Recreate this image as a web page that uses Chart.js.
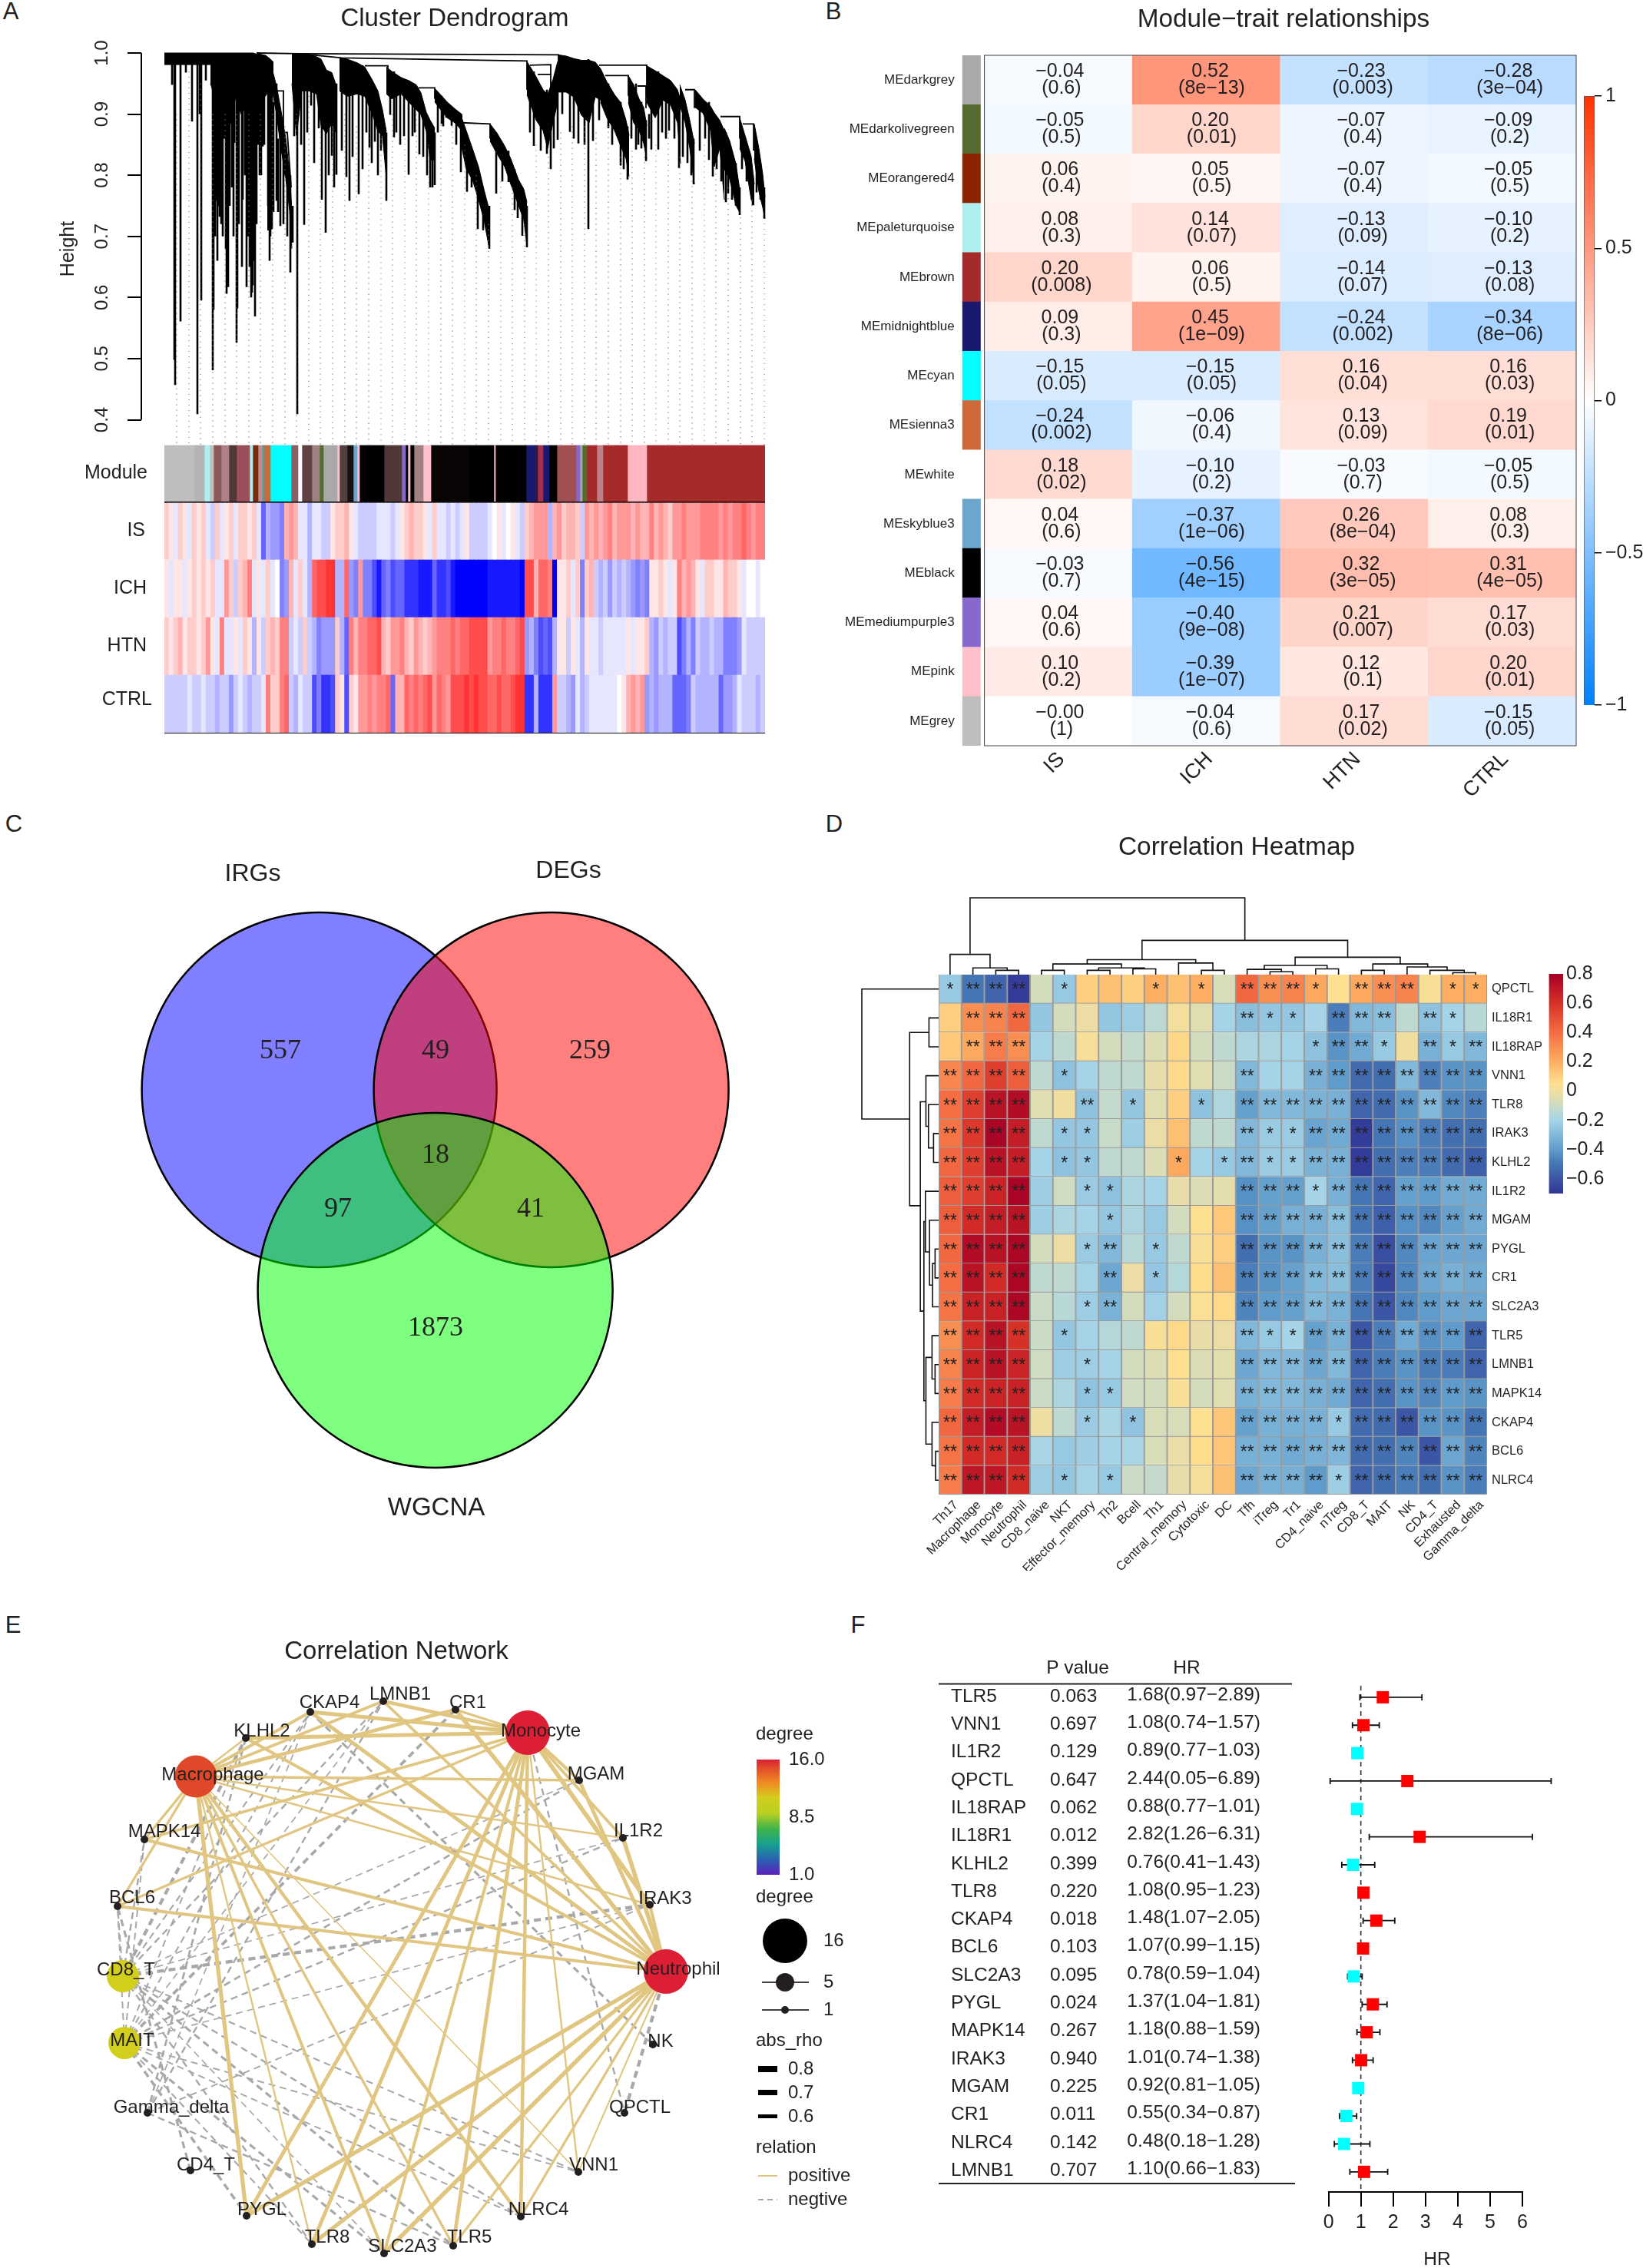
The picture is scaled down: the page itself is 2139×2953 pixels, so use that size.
<!DOCTYPE html>
<html>
<head>
<meta charset="utf-8">
<title>Figure</title>
<script src="https://cdn.jsdelivr.net/npm/chart.js@4/dist/chart.umd.min.js"></script>
<style>
body{margin:0;background:#fff;}
#page{position:relative;width:2139px;height:2953px;overflow:hidden;font-family:"Liberation Sans",Arial,sans-serif;color:#231f20;}
.tag{position:absolute;font-size:31px;line-height:31px;transform:translate(-50%,-50%);}
</style>
</head>
<body>
<div id="page">
<div class="tag" style="left:14px;top:14px">A</div>
<div class="tag" style="left:1085px;top:14px">B</div>
<div class="tag" style="left:18px;top:1072px">C</div>
<div class="tag" style="left:1086px;top:1072px">D</div>
<div class="tag" style="left:17px;top:2115px">E</div>
<div class="tag" style="left:1117px;top:2115px">F</div>
</div>
<script>
// ---------- A: dendrogram, [x along gene order, height]
var heightTicks=[0.4,0.5,0.6,0.7,0.8,0.9,1.0];
// filled curtains, each point is [x, top height, bottom height]
var dendroBands=[
[[0,1.0,.981],[116,1.0,.981],[120,.998,.985]],
[[60,.981,.95],[70,.981,.91],[85,.981,.95],[100,.981,.9],[116,.981,.93]],
[[118,.998,.946],[125,.998,.925],[132,.996,.93],[138,.99,.946],[142,.985,.955]],
[[138,.985,.955],[146,.946,.90],[151,.912,.85],[158,.86,.795],[163,.803,.742],[166,.742,.68]],
[[134,.938,.71],[140,.938,.712]],
[[166,.999,.95],[172,.999,.865],[179,.998,.938],[188,.998,.938],[198,.994,.933],[204,.99,.881],[211,.972,.868],[218,.968,.885],[224,.946,.868]],
[[228,.992,.938],[238,.99,.929],[251,.984,.933],[261,.977,.929],[271,.955,.899],[278,.938,.872],[284,.907,.864],[289,.872,.795]],
[[289,.977,.933],[296,.97,.925],[308,.96,.933],[318,.955,.92],[328,.948,.907],[334,.935,.899],[341,.903,.872],[346,.89,.825],[352,.877,.825]],
[[352,.942,.92],[358,.934,.91],[368,.92,.894],[378,.909,.886],[388,.899,.872]],
[[386,.898,.852],[393,.873,.81],[401,.844,.793],[409,.814,.76],[416,.777,.727],[423,.743,.68]],
[[424,.884,.856],[433,.869,.835],[443,.848,.814],[451,.827,.785],[461,.793,.751],[468,.777,.726],[472,.756,.685]],
[[472,.986,.932],[478,.974,.911],[484,.961,.89],[493,.94,.873],[499,.932,.844],[506,.957,.886],[512,.986,.919]],
[[513,.997,.936],[523,.995,.936],[533,.991,.928],[543,.988,.898],[553,.988,.886],[561,.985,.928],[568,.974,.923]],
[[568,.974,.919],[576,.953,.894],[586,.932,.873],[594,.919,.848],[601,.89,.827],[605,.865,.798]],
[[604,.963,.919],[611,.948,.886],[618,.925,.873],[624,.911,.852],[628,.881,.827]],
[[628,.979,.919],[639,.971,.894],[649,.963,.923],[659,.955,.915],[668,.94,.886],[672,.923,.819]],
[[671,.948,.915],[678,.923,.886],[684,.89,.844],[690,.852,.785]],
[[691,.94,.911],[701,.925,.902],[711,.913,.873],[716,.902,.814],[723,.89,.844],[729,.873,.76]],
[[729,.877,.81],[736,.856,.793],[744,.819,.751],[749,.777,.739]],
[[749,.894,.844],[756,.865,.823],[764,.831,.76],[768,.785,.751]],
[[768,.884,.827],[774,.844,.773],[779,.802,.747],[782,.764,.729]]
];
// single branches, [x, top height, bottom height]
var dendroDrops=[
[10,.985,.948],[13,.985,.498],[14,.985,.457],[21,.985,.561],[28,.985,.968],[36,.985,.888],[43,.985,.409],[48,.985,.595],[46,.985,.9],[54,.985,.955],
[63,.985,.481],[64,.985,.58],[67,.985,.758],[71,.985,.749],[72,.985,.732],[81,.985,.606],[83,.985,.617],[87,.985,.884],[91,.985,.853],[94,.985,.526],
[95,.985,.582],[99,.985,.927],[107,.985,.617],[110,.985,.862],[114,.985,.608],[118,.985,.569],[116,.985,.66],[128,.985,.847],[137,.95,.66],[140,.95,.712],
[146,.95,.758],[151,.9,.717],[164,.8,.641],[167,.75,.69],[157,.85,.799],[173,.99,.409],[182,.99,.719],[169,.99,.864],[191,.99,.914],[201,.99,.877],
[210,.97,.706],[218,.96,.832],[224,.95,.801],[237,.98,.797],[241,.98,.758],[253,.98,.769],[267,.96,.845],[274,.94,.855],[282,.91,.84],[289,.87,.758],
[294,.97,.899],[299,.97,.862],[312,.955,.864],[318,.955,.801],[323,.95,.864],[332,.93,.834],[346,.88,.78],[352,.87,.784],[361,.93,.884],[367,.92,.894],
[374,.91,.881],[386,.89,.805],[394,.86,.773],[408,.8,.712],[423,.75,.68],[432,.87,.77],[448,.84,.789],[456,.81,.743],[466,.78,.701],[472,.75,.682],
[481,.97,.848],[498,.94,.835],[507,.95,.844],[512,.98,.858],[528,.99,.871],[539,.99,.852],[552,.99,.712],[558,.98,.856],[578,.95,.877],[594,.92,.816],
[603,.88,.793],[614,.95,.842],[621,.92,.844],[627,.89,.823],[634,.97,.842],[643,.97,.842],[657,.955,.873],[670,.93,.812],[689,.86,.785],[697,.93,.84],
[709,.92,.825],[714,.9,.798],[731,.87,.756],[744,.82,.75],[749,.78,.735],[761,.84,.789],[766,.8,.751],[771,.85,.772],[781,.78,.729],
[75,.985,.83],[78,.985,.86],[88,.985,.78],[102,.985,.76],[105,.985,.8],[112,.985,.75],[120,.985,.72],[124,.985,.8],
[66,.985,.7],[69,.985,.66],[74,.985,.72],[76,.985,.7],[80,.985,.68],[85,.985,.75],[90,.985,.7],[97,.985,.72],[101,.985,.65],[109,.985,.7],
[111,.985,.65],[113,.985,.6],[115,.985,.62],[117,.985,.7],[119,.985,.75],[122,.985,.85],[126,.97,.8],[130,.97,.85],[135,.95,.75],[138,.95,.7],
[142,.92,.74],[148,.86,.74],[155,.84,.72],[160,.8,.7],
[178,.98,.85],[186,.98,.87],[195,.98,.82],[205,.95,.76],[214,.95,.8],[221,.93,.78],[231,.98,.84],[245,.98,.83],[258,.98,.81],[263,.96,.87],
[270,.94,.82],[278,.9,.8],[302,.96,.87],[307,.96,.85],[326,.94,.87],[337,.91,.83],[342,.89,.8],[349,.87,.78],[356,.92,.87],[363,.91,.88],[380,.9,.85],
[400,.82,.78],[415,.76,.71],[440,.83,.79],[460,.78,.73],[476,.95,.87],[490,.93,.84],[503,.9,.81],[518,.96,.9],[533,.95,.86],[547,.95,.85],
[566,.95,.89],[583,.9,.85],[598,.88,.81],[608,.93,.86],[617,.9,.85],[631,.9,.86],[648,.93,.87],[653,.95,.86],[664,.93,.86],[675,.9,.83],
[681,.88,.82],[686,.86,.8],[704,.92,.86],[719,.88,.81],[725,.87,.79],[734,.84,.77],[739,.82,.76],[752,.86,.81],[758,.84,.79],[776,.82,.76]
];
// merge lines, polylines of [x, height]
var dendroLinks=[
[[120,1.0],[174,.999],[513,.997],[513,.98]],
[[176,.999],[231,.992],[472,.987],[472,.94]],
[[261,.979],[291,.979],[291,.94]],
[[331,.943],[352,.943],[352,.925]],
[[386,.886],[424,.884],[424,.86]],
[[566,.98],[628,.98],[628,.93]],
[[574,.963],[604,.963],[604,.93]],
[[616,.946],[627,.946],[627,.91]],
[[678,.94],[690,.94],[690,.91]],
[[724,.896],[749,.896],[749,.86]],
[[753,.884],[767,.884],[767,.84]],
[[476,.98],[503,.981],[503,.94]],
[[486,.965],[503,.965]],
[[137,.938],[155,.938],[155,.85]],
[[152,.87],[160,.87],[165,.78]]
];
var guideX=[16,32,47,63,79,94,110,125,141,157,172,188,203,219,235,250,266,282,297,313,328,344,360,375,391,406,422,438,453,469,484,500,516,531,547,562,578,594,609,625,640,656,671,687,703,718,734,750,765,781];
var guideTop=[.9,.97,.95,.9,.9,.9,.9,.9,.9,.88,.9,.93,.88,.88,.9,.88,.87,.86,.9,.86,.9,.85,.9,.88,.85,.8,.72,.79,.78,.72,.85,.83,.87,.88,.88,.87,.88,.83,.84,.83,.85,.87,.83,.8,.85,.82,.78,.74,.76,.73];

// module colour strip, run lengths along the gene order
var moduleWidth=[39,13,7,5,10,10,10,17,4,7,5,3,8,27,9,5,13,10,5,18,3,10,8,5,3,32,23,5,3,3,5,12,10,49,33,2,40,12,3,7,8,10,25,5,3,6,13,8,32,25,154];
var moduleColor=['#bebebe','#b4b4b4','#aeeeee','#bebebe','#8b5a5a','#b08088','#503838','#99505a','#aeeeee','#7a2a10','#c09090','#50a0a0','#cd6839','#00ffff','#8b5f65','#ffffff','#604040','#a08080','#556b2f','#a9a9a9','#ffc0cb','#504040','#181010','#6ca6cd','#ffc0cb','#000000','#503838','#8968cd','#000000','#ffc0cb','#000000','#a08080','#ffc0cb','#0a0505','#000000','#ffc0cb','#000000','#191970','#3a1a2a','#a03050','#191970','#000000','#a05050','#8968cd','#a9a9a9','#556b2f','#a52a2a','#c08088','#a52a2a','#ffb6c1','#a52a2a'];
var traitNames=['Module','IS','ICH','HTN','CTRL'];
// trait strips, tenths of full red (+10) or full blue (-10)
var isRow=[2,1,-1,2,1,-1,2,1,2,-1,-2,2,-1,1,2,-1,2,2,1,2,-1,-6,-3,-4,-4,-5,3,4,3,-1,-1,-3,-1,-1,-2,-2,1,2,2,3,1,-1,-2,-2,-2,-2,-1,-1,-1,-2,-1,1,2,3,2,2,1,-1,2,-1,-1,-2,-1,-2,-1,1,-2,-2,-2,-2,-1,0,1,-1,0,1,-1,-2,2,3,4,4,4,-3,3,4,2,3,3,2,-2,4,3,4,3,4,5,3,4,4,4,3,4,3,3,5,3,4,3,2,4,4,5,4,4,4,5,5,5,5,4,5,4,5,5,6,5,4,5,5];
var ichRow=[1,-1,1,1,-1,1,2,1,2,1,2,-1,-1,4,2,-2,2,3,5,-1,1,-1,2,-1,0,-5,-4,3,-1,2,-1,-3,6,7,7,8,8,-3,-3,6,-4,-5,4,-5,-5,-7,-9,-6,-5,-7,-6,-6,-8,-8,-8,-9,-9,-9,-6,-8,-8,-7,-9,-10,-10,-10,-10,-10,-10,-10,-9,-9,-9,-9,-9,-9,-9,-10,7,7,3,6,6,5,-10,1,1,2,-1,2,-5,2,3,-2,-3,-2,-4,-2,-3,-2,-3,-4,-5,-4,-5,1,1,2,1,-1,1,5,3,4,3,1,-1,2,2,1,1,3,2,2,1,-1,0,0,-1,0];
var htnRow=[2,1,2,3,1,2,2,1,2,4,1,-1,5,-1,-1,1,-1,2,1,-3,1,-2,2,3,2,5,5,-2,-1,-2,2,-2,-3,-5,-4,-4,-4,2,-3,-6,5,3,5,5,6,6,7,3,2,4,4,5,3,2,4,3,2,3,4,5,5,5,6,5,6,6,7,7,7,7,4,5,5,6,5,5,6,7,-4,-3,-5,-7,-6,-7,-3,1,1,-2,1,-1,-3,1,-1,-1,-2,-1,-1,-1,-1,-1,1,-1,1,1,2,-3,-4,-2,-3,-2,-2,-7,-5,-3,-5,-2,-3,-3,-2,-3,-3,-5,-5,-5,-4,-1,-2,-2,-2,-2];
var ctrlRow=[-2,-2,-2,-2,-2,-1,-2,-2,-1,-2,-2,-3,-2,-2,-4,-2,-1,-2,-3,-2,-2,-1,5,2,2,5,6,-2,-3,-1,-2,-2,-7,-5,-8,-8,-7,2,1,-7,2,1,4,4,5,4,5,5,6,-6,3,3,6,5,6,5,6,7,4,6,5,4,7,7,7,8,7,8,7,7,6,6,7,6,6,7,8,8,-8,-8,-3,-8,-8,-8,4,-2,-2,-3,-4,-1,-3,-2,-1,-1,-1,-1,-1,-1,0,1,3,4,3,4,-4,-3,-4,-3,-3,-3,-6,-6,-6,-5,-2,-3,-3,-3,-3,-3,-6,-4,-4,-3,-1,-2,-2,-2,-3,-2];

// ---------- B: module-trait table
var mtTraits=['IS','ICH','HTN','CTRL'];
var mtModules=['MEdarkgrey','MEdarkolivegreen','MEorangered4','MEpaleturquoise','MEbrown','MEmidnightblue','MEcyan','MEsienna3','MEwhite','MEskyblue3','MEblack','MEmediumpurple3','MEpink','MEgrey'];
var mtColors=['#a9a9a9','#556b2f','#8b2500','#aeeeee','#a52a2a','#191970','#00ffff','#cd6839','#ffffff','#6ca6cd','#000000','#8968cd','#ffc0cb','#bebebe'];
var mtCor=[[-.04,.52,-.23,-.28],[-.05,.20,-.07,-.09],[.06,.05,-.07,-.05],[.08,.14,-.13,-.10],[.20,.06,-.14,-.13],[.09,.45,-.24,-.34],[-.15,-.15,.16,.16],[-.24,-.06,.13,.19],[.18,-.10,-.03,-.05],[.04,-.37,.26,.08],[-.03,-.56,.32,.31],[.04,-.40,.21,.17],[.10,-.39,.12,.20],[-.001,-.04,.17,-.15]];
var mtP=[['0.6','8e-13','0.003','3e-04'],['0.5','0.01','0.4','0.2'],['0.4','0.5','0.4','0.5'],['0.3','0.07','0.09','0.2'],['0.008','0.5','0.07','0.08'],['0.3','1e-09','0.002','8e-06'],['0.05','0.05','0.04','0.03'],['0.002','0.4','0.09','0.01'],['0.02','0.2','0.7','0.5'],['0.6','1e-06','8e-04','0.3'],['0.7','4e-15','3e-05','4e-05'],['0.6','9e-08','0.007','0.03'],['0.2','1e-07','0.1','0.01'],['1','0.6','0.02','0.05']];
var mtBarTicks=[-1,-0.5,0,0.5,1];

// ---------- C: venn
var vennNames=['IRGs','DEGs','WGCNA'];
var vennX=[-151,151,0];
var vennY=[81,81,-180];
var vennCounts=['557','49','259','97','18','41','1873'];

// ---------- D: correlation heatmap
var hmCols=['Th17','Macrophage','Monocyte','Neutrophil','CD8_naive','NKT','Effector_memory','Th2','Bcell','Th1','Central_memory','Cytotoxic','DC','Tfh','iTreg','Tr1','CD4_naive','nTreg','CD8_T','MAIT','NK','CD4_T','Exhausted','Gamma_delta'];
var hmRows=['QPCTL','IL18R1','IL18RAP','VNN1','TLR8','IRAK3','KLHL2','IL1R2','MGAM','PYGL','CR1','SLC2A3','TLR5','LMNB1','MAPK14','CKAP4','BCL6','NLRC4'];
var hmValues=[
[-.24,-.5,-.55,-.68,-.08,-.24,.1,.15,.1,.2,.15,.2,-.07,.42,.3,.33,.22,.05,.22,.3,.33,.03,.2,.2],
[.1,.3,.33,.42,-.25,-.08,-.02,-.25,-.22,-.14,.01,-.05,-.2,-.28,-.25,-.25,-.2,-.48,-.3,-.28,-.13,-.27,-.2,-.15],
[.12,.22,.35,.3,-.2,-.13,.02,-.08,-.12,-.06,.08,-.08,-.13,-.18,-.18,-.2,-.27,-.42,-.35,-.24,0,-.33,-.24,-.3],
[.32,.42,.55,.45,-.13,-.27,-.2,-.13,-.13,-.03,.07,-.05,-.1,-.3,-.2,-.2,-.33,-.4,-.53,-.52,-.3,-.47,-.42,-.42],
[.4,.55,.72,.75,-.05,0,-.27,-.12,-.25,-.05,.1,-.27,-.17,-.38,-.3,-.3,-.32,-.33,-.55,-.53,-.42,-.3,-.45,-.47],
[.38,.57,.78,.68,-.13,-.25,-.25,-.11,-.22,-.02,.15,-.13,-.13,-.3,-.23,-.23,-.37,-.35,-.68,-.5,-.43,-.48,-.52,-.52],
[.42,.55,.72,.68,-.2,-.27,-.25,-.13,-.13,-.06,.22,-.2,-.24,-.3,-.23,-.23,-.32,-.33,-.68,-.52,-.47,-.48,-.53,-.57],
[.45,.55,.65,.78,-.22,-.09,-.23,-.27,-.18,-.2,-.03,-.06,-.04,-.43,-.38,-.38,-.2,-.33,-.5,-.55,-.38,-.4,-.35,-.35],
[.45,.62,.68,.72,-.22,-.18,-.2,-.25,-.18,-.24,-.08,.05,.12,-.43,-.38,-.33,-.33,-.28,-.5,-.57,-.43,-.45,-.38,-.35],
[.42,.75,.72,.77,-.08,-.02,-.23,-.3,-.15,-.24,-.13,.03,.1,-.52,-.42,-.42,-.33,-.28,-.48,-.62,-.45,-.37,-.36,-.36],
[.4,.72,.62,.77,-.13,-.13,-.2,-.36,-.02,-.25,-.16,.06,.15,-.48,-.42,-.38,-.3,-.28,-.48,-.64,-.45,-.36,-.33,-.35],
[.38,.66,.66,.77,-.1,-.15,-.22,-.32,-.08,-.21,-.08,.04,.07,-.46,-.4,-.38,-.3,-.32,-.5,-.6,-.45,-.4,-.36,-.36],
[.3,.62,.72,.6,-.1,-.25,-.2,-.16,-.13,.03,.07,-.03,-.02,-.3,-.24,-.2,-.38,-.33,-.6,-.48,-.35,-.43,-.4,-.55],
[.33,.65,.72,.65,-.09,-.22,-.22,-.2,-.08,-.06,.05,-.06,-.04,-.36,-.3,-.3,-.36,-.3,-.55,-.48,-.42,-.48,-.48,-.55],
[.35,.62,.65,.66,-.1,-.18,-.26,-.24,-.09,-.08,.03,-.08,-.05,-.33,-.3,-.3,-.33,-.35,-.55,-.52,-.42,-.45,-.4,-.42],
[.42,.68,.75,.72,-.01,-.13,-.23,-.19,-.26,-.07,-.07,.05,.13,-.38,-.33,-.33,-.33,-.24,-.53,-.53,-.6,-.42,-.42,-.5],
[.38,.62,.62,.66,-.19,-.24,-.22,-.2,-.19,-.07,-.02,.06,.13,-.33,-.33,-.35,-.33,-.31,-.53,-.52,-.46,-.6,-.36,-.46],
[.35,.7,.7,.62,-.22,-.25,-.2,-.24,-.1,-.12,-.03,.02,.15,-.36,-.33,-.33,-.4,-.22,-.55,-.52,-.48,-.52,-.42,-.48]
];
var hmStars=[
[1,2,2,2,0,1,0,0,0,1,0,1,0,2,2,2,1,0,2,2,2,0,1,1],
[0,2,2,2,0,0,0,0,0,0,0,0,0,2,1,1,0,2,2,2,0,2,1,0],
[0,2,2,2,0,0,0,0,0,0,0,0,0,0,0,0,1,2,2,1,0,2,1,2],
[2,2,2,2,0,1,0,0,0,0,0,0,0,2,0,0,2,2,2,2,2,2,2,2],
[2,2,2,2,0,0,2,0,1,0,0,1,0,2,2,2,2,2,2,2,2,2,2,2],
[2,2,2,2,0,1,1,0,0,0,0,0,0,2,1,1,2,2,2,2,2,2,2,2],
[2,2,2,2,0,1,1,0,0,0,1,0,1,2,1,1,2,2,2,2,2,2,2,2],
[2,2,2,2,0,0,1,1,0,0,0,0,0,2,2,2,1,2,2,2,2,2,2,2],
[2,2,2,2,0,0,0,1,0,0,0,0,0,2,2,2,2,2,2,2,2,2,2,2],
[2,2,2,2,0,0,1,2,0,1,0,0,0,2,2,2,2,2,2,2,2,2,2,2],
[2,2,2,2,0,0,0,2,0,1,0,0,0,2,2,2,2,2,2,2,2,2,2,2],
[2,2,2,2,0,0,1,2,0,0,0,0,0,2,2,2,2,2,2,2,2,2,2,2],
[2,2,2,2,0,1,0,0,0,0,0,0,0,2,1,1,2,2,2,2,2,2,2,2],
[2,2,2,2,0,0,1,0,0,0,0,0,0,2,2,2,2,2,2,2,2,2,2,2],
[2,2,2,2,0,0,1,1,0,0,0,0,0,2,2,2,2,2,2,2,2,2,2,2],
[2,2,2,2,0,0,1,0,1,0,0,0,0,2,2,2,2,1,2,2,2,2,2,2],
[2,2,2,2,0,0,0,0,0,0,0,0,0,2,2,2,2,2,2,2,2,2,2,2],
[2,2,2,2,0,1,0,1,0,0,0,0,0,2,2,2,2,1,2,2,2,2,2,2]
];
var hmBarTicks=[-0.6,-0.4,-0.2,0,0.2,0.4,0.6,0.8];
// merges: [left position, right position, height, left child height, right child height]
var colMerges=[[2,3,9,0,0],[1,2.5,14,0,9],[0,1.75,42,0,14],[4,5,9,0,0],[6,7,9,0,0],[8,9,12,0,0],[6.5,8.5,14,9,12],[4.5,7.5,22,9,14],[11,12,9,0,0],[10,11.5,24,0,9],[6,10.75,31,22,24],[14,15,6,0,0],[13,14.5,11,0,6],[16,17,12,0,0],[13.75,16.5,19,11,12],[18,19,9,0,0],[22,23,4,0,0],[21,22.5,9,0,4],[20,21.75,16,0,9],[18.5,20.9,22,9,16],[15.1,19.7,36,19,22],[8.4,17.4,71,31,36],[.875,12.9,159,42,71]];
var rowMerges=[[5,6,10,0,0],[4,5.5,20,0,10],[3,4.75,25,0,20],[9,10,7,0,0],[9.5,11,12,7,0],[8,10.25,18,0,12],[7,9.1,26,0,18],[13,14,7,0,0],[12,13.5,13,0,7],[16,17,6,0,0],[15,16.5,13,0,6],[12.75,15.75,25,13,13],[8.05,14.25,29,26,25],[3.9,11.15,36,25,29],[1,2,19,0,0],[1.5,7.5,57,19,36],[0,4.5,151,0,57]];

// ---------- E: correlation network, layout coordinates read from the circle
var netNodes=['CR1','Monocyte','MGAM','IL1R2','IRAK3','Neutrophil','NK','QPCTL','VNN1','NLRC4','TLR5','SLC2A3','TLR8','PYGL','CD4_T','Gamma_delta','MAIT','CD8_T','BCL6','MAPK14','Macrophage','KLHL2','CKAP4','LMNB1'];
var netX=[94,188,255,312,347,368,351,314,254,179,91,1,-93,-178,-251,-307,-337,-339,-346,-311,-244,-179,-95,0];
var netY=[348,318,256,181,94,7,-88,-177,-254,-312,-350,-360,-348,-311,-252,-177,-86,1,92,179,261,311,345,359];
var netDegree=[1,16,1,1,1,16,1,1,1,1,1,1,1,1,1,1,11,11,1,1,15,1,1,1];
var posGenes=['VNN1','TLR8','IRAK3','KLHL2','IL1R2','MGAM','PYGL','CR1','SLC2A3','TLR5','LMNB1','MAPK14','CKAP4','BCL6','NLRC4'];
var macroRho=[.5,.55,.57,.55,.55,.62,.75,.72,.66,.62,.65,.62,.68,.62,.7];
var monoRho=[.55,.72,.78,.72,.65,.68,.72,.62,.66,.72,.72,.65,.75,.62,.7];
var neutRho=[.52,.75,.68,.68,.78,.72,.77,.77,.77,.6,.65,.66,.72,.66,.62];
var cd8Genes=['VNN1','TLR8','IRAK3','KLHL2','IL1R2','MGAM','SLC2A3','TLR5','LMNB1','MAPK14','CKAP4','BCL6','NLRC4'];
var cd8Rho=[-.53,-.55,-.68,-.68,-.5,-.5,-.5,-.6,-.55,-.55,-.53,-.53,-.55];
var maitGenes=['VNN1','TLR8','IRAK3','KLHL2','IL1R2','MGAM','PYGL','CR1','SLC2A3','LMNB1','MAPK14','CKAP4','BCL6','NLRC4'];
var maitRho=[-.52,-.53,-.5,-.52,-.55,-.57,-.62,-.64,-.6,-.5,-.52,-.53,-.52,-.52];
var otherFrom=['NK','CD4_T','Gamma_delta','Gamma_delta','Gamma_delta','Gamma_delta','Gamma_delta','Neutrophil','Monocyte'];
var otherTo=['CKAP4','BCL6','KLHL2','TLR5','LMNB1','IRAK3','CKAP4','QPCTL','QPCTL'];
var otherRho=[-.6,-.6,-.57,-.55,-.55,-.52,-.5,-.68,-.55];

// ---------- F: forest plot
var fGenes=['TLR5','VNN1','IL1R2','QPCTL','IL18RAP','IL18R1','KLHL2','TLR8','CKAP4','BCL6','SLC2A3','PYGL','MAPK14','IRAK3','MGAM','CR1','NLRC4','LMNB1'];
var fP=[.063,.697,.129,.647,.062,.012,.399,.220,.018,.103,.095,.024,.267,.940,.225,.011,.142,.707];
var fHR=[1.68,1.08,.89,2.44,.88,2.82,.76,1.08,1.48,1.07,.78,1.37,1.18,1.01,.92,.55,.48,1.10];
var fLow=[.97,.74,.77,.05,.77,1.26,.41,.95,1.07,.99,.59,1.04,.88,.74,.81,.34,.18,.66];
var fHigh=[2.89,1.57,1.03,6.89,1.01,6.31,1.43,1.23,2.05,1.15,1.04,1.81,1.59,1.38,1.05,.87,1.28,1.83];
var fTicks=[0,1,2,3,4,5,6];

// ---------- helpers
var FONT='"Liberation Sans", Arial, sans-serif';
var INK='#231f20';
Chart.defaults.font.family=FONT;
Chart.defaults.color=INK;
Chart.defaults.plugins.legend.display=false;
Chart.defaults.plugins.tooltip.enabled=false;
// big points must not shrink the plot area, the layout here is fixed
Chart.registry.getController('scatter').prototype.getMaxOverflow=function(){return 0;};

function panel(left,top,width,height,config){
  var c=document.createElement('canvas');
  c.width=width; c.height=height;
  c.style.cssText='position:absolute;left:'+left+'px;top:'+top+'px;width:'+width+'px;height:'+height+'px';
  document.getElementById('page').appendChild(c);
  config.options=Object.assign({responsive:false,animation:false,events:[]},config.options);
  return new Chart(c,config);
}
// axis box with a fixed size so the plot area lands where it should
function fit(size){
  return function(a){
    if(a.isHorizontal()) a.height=size; else a.width=size;
    a.paddingLeft=0; a.paddingRight=0; a.paddingTop=0; a.paddingBottom=0;
  };
}
function setTicks(list){ return function(a){ a.ticks=list.map(function(v){return {value:v};}); }; }
function T(text,x,y,size,align,family){ return {text:text,x:x,y:y,size:size,align:align||'center',family:family||FONT}; }
function labels(list,extra){
  return {id:'pageLabels',afterDraw:function(chart){
    var ctx=chart.ctx, ox=chart.canvas.offsetLeft, oy=chart.canvas.offsetTop;
    ctx.save();
    if(extra) extra(ctx,ox,oy,chart);
    ctx.fillStyle=INK; ctx.textBaseline='middle';
    list.forEach(function(t){
      ctx.font=t.size+'px '+t.family;
      ctx.textAlign=t.align;
      ctx.fillText(t.text,t.x-ox,t.y-oy);
    });
    ctx.restore();
  }};
}
function minus(s){ return String(s).replace(/-/g,'\u2212'); }
function rgb(c){ return 'rgb('+Math.round(c[0])+','+Math.round(c[1])+','+Math.round(c[2])+')'; }
function hex(h){ return [parseInt(h.substr(1,2),16),parseInt(h.substr(3,2),16),parseInt(h.substr(5,2),16)]; }
function ramp(stops,v){
  if(v<=stops[0][0]) return stops[0][1];
  for(var i=1;i<stops.length;i++){
    if(v<=stops[i][0]){
      var t=(v-stops[i-1][0])/(stops[i][0]-stops[i-1][0]), a=hex(stops[i-1][1]), b=hex(stops[i][1]);
      return rgb([a[0]+(b[0]-a[0])*t,a[1]+(b[1]-a[1])*t,a[2]+(b[2]-a[2])*t]);
    }
  }
  return stops[stops.length-1][1];
}
function flat(lines){
  var out=[];
  lines.forEach(function(l){
    l.forEach(function(p){ out.push({x:p[0],y:p[1]}); });
    out.push({x:null,y:null});
  });
  return out;
}
function lineSet(points,width,color,dash){
  return {type:'scatter',data:points,showLine:true,pointRadius:0,borderColor:color,borderWidth:width,borderDash:dash||[],spanGaps:false,clip:false,borderCapStyle:'butt',backgroundColor:color};
}
var hidden={display:false};
function colorbar(left,top,width,height,area,yWidth,stops,min,max,ticks,tickFmt,tickLen,pad,size,border){
  return panel(left,top,width,height,{
    type:'bar',
    data:{labels:['c'],datasets:[{data:[[min,max]],barPercentage:1,categoryPercentage:1,borderWidth:border?1:0,borderColor:'#555',
      backgroundColor:function(ctx){
        var ca=ctx.chart.chartArea; if(!ca) return '#fff';
        var g=ctx.chart.ctx.createLinearGradient(0,ca.bottom,0,ca.top);
        stops.forEach(function(s){ g.addColorStop((s[0]-min)/(max-min),s[1]); });
        return g;
      }}]},
    options:{
      layout:{padding:{left:area[0]-left,top:area[1]-top,right:0,bottom:top+height-area[3]}},
      scales:{
        x:{display:false},
        y:{position:'right',min:min,max:max,afterBuildTicks:setTicks(ticks),afterFit:fit(yWidth),
          border:{display:false},
          grid:{drawOnChartArea:false,drawTicks:tickLen>0,tickLength:tickLen,color:'#000',lineWidth:1.5},
          ticks:{callback:tickFmt,padding:pad,font:{size:size},autoSkip:false}}
      }
    }
  });
}

// ---------- A
(function(){
  var sets=[];
  sets.push(lineSet(flat(guideX.map(function(x,i){return [[x,guideTop[i]],[x,.3592]];})),1.2,'#777',[1.2,5.8]));
  dendroBands.forEach(function(b){
    var up=lineSet(b.map(function(p){return {x:p[0],y:p[1]};}),1,'#000');
    up.fill='+1';
    var low=lineSet(b.map(function(p){return {x:p[0],y:p[2]};}),1,'#000');
    low.fill=false;
    sets.push(up,low);
  });
  sets.push(lineSet(flat(dendroDrops.map(function(d){return [[d[0],d[1]],[d[0],d[2]]];})),2.6,'#000'));
  sets.push(lineSet(flat(dendroLinks),1.8,'#000'));
  sets.push(lineSet(flat([[[-30,.4],[-30,1.0]]]),2,'#000'));
  panel(70,5,935,580,{
    type:'scatter',
    data:{datasets:sets},
    options:{
      layout:{padding:{left:0,top:64,right:9,bottom:6}},
      scales:{
        x:{display:false,type:'linear',min:-30,max:782},
        y:{min:.3592,max:1,afterBuildTicks:setTicks(heightTicks),afterFit:fit(114),
          border:{display:false},
          grid:{drawOnChartArea:false,tickLength:18,color:'#000',lineWidth:2},
          title:{display:true,text:'Height',font:{size:25},padding:{top:4,bottom:0}},
          ticks:{callback:function(v){return v.toFixed(1);},minRotation:90,maxRotation:90,crossAlign:'center',padding:16,font:{size:24},autoSkip:false}}
      }
    },
    plugins:[labels([T('Cluster Dendrogram',592,25,33)])]
  });

  panel(100,570,906,90,{
    type:'bar',
    data:{labels:['Module'],datasets:moduleWidth.map(function(w,i){
      return {data:[w],backgroundColor:moduleColor[i],barPercentage:1,categoryPercentage:1};
    })},
    options:{
      indexAxis:'y',
      layout:{padding:{left:114,top:9.6,right:10,bottom:6}},
      scales:{x:{display:false,stacked:true,min:0,max:782},y:{display:false,stacked:true}}
    },
    plugins:[labels([T('Module',192,616,25,'right')])]
  });

  var rows=[isRow,ichRow,htnRow,ctrlRow], cells=[], colors=[];
  rows.forEach(function(row,r){
    row.forEach(function(v,i){
      cells.push({x:i,y:[r,r+1]});
      var k=Math.abs(v)/10, w=Math.round(255*(1-k));
      colors.push(v>=0?rgb([255,w,w]):rgb([w,w,255]));
    });
  });
  panel(100,645,906,320,{
    type:'bar',
    data:{datasets:[{data:cells,backgroundColor:colors,barPercentage:1,categoryPercentage:1}]},
    options:{
      layout:{padding:{left:114,top:9,right:10,bottom:11}},
      scales:{
        x:{type:'linear',display:false,offset:false,min:-.5,max:129.5,grid:{offset:false}},
        y:{min:0,max:4,reverse:true,z:1,afterFit:fit(0),border:{display:false},
          grid:{color:'#111',lineWidth:2,drawTicks:false},ticks:{display:false,stepSize:1}}
      }
    },
    plugins:[labels([T(traitNames[1],189,691,25,'right'),T(traitNames[2],191,766,25,'right'),T(traitNames[3],191,841,25,'right'),T(traitNames[4],198,911,25,'right')])]
  });
})();

// ---------- B
(function(){
  var stops=[[-1,'#0080ff'],[0,'#ffffff'],[1,'#ff3300']];
  var cells=[],colors=[];
  mtCor.forEach(function(row,r){
    row.forEach(function(v,c){ cells.push({x:c,y:[r,r+1]}); colors.push(ramp(stops,v)); });
  });
  var shift=[4,7,11,10];
  panel(1277,5,790,1060,{
    type:'bar',
    data:{datasets:[{data:cells,backgroundColor:colors,barPercentage:1,categoryPercentage:1}]},
    options:{
      layout:{padding:{left:4.6,top:67,right:15,bottom:0}},
      scales:{
        x:{type:'linear',min:-.5,max:3.5,offset:false,afterBuildTicks:setTicks([0,1,2,3]),afterFit:fit(94),
          border:{display:false},grid:{display:false,offset:false,drawTicks:false},
          ticks:{callback:function(v){return mtTraits[v];},minRotation:45,maxRotation:45,padding:2,labelOffset:4,font:{size:27},autoSkip:false}},
        y:{display:false,min:0,max:14,reverse:true}
      }
    },
    plugins:[labels([T('Module\u2212trait relationships',1671,26,33.3)],null),{id:'cellText',afterDraw:function(chart){
      var ctx=chart.ctx,a=chart.chartArea,x=chart.scales.x,y=chart.scales.y;
      ctx.save();
      ctx.strokeStyle='#444'; ctx.lineWidth=1; ctx.strokeRect(a.left,a.top,a.width,a.height);
      ctx.fillStyle=INK; ctx.textAlign='center'; ctx.textBaseline='middle'; ctx.font='25px '+FONT;
      mtCor.forEach(function(row,r){
        row.forEach(function(v,c){
          var px=x.getPixelForValue(c)+shift[c], py=y.getPixelForValue(r+.5);
          ctx.fillText(minus(v.toFixed(2)),px-2,py-11);
          ctx.fillText('('+minus(mtP[r][c])+')',px,py+11);
        });
      });
      ctx.restore();
    }}]
  });
  panel(1090,60,190,920,{
    type:'bar',
    data:{labels:['c'],datasets:[{data:mtColors.map(function(c,r){return {x:'c',y:[r,r+1]};}),backgroundColor:mtColors,barPercentage:1,categoryPercentage:1}]},
    options:{
      layout:{padding:{left:0,top:12,right:3.2,bottom:9}},
      scales:{
        x:{display:false},
        y:{min:0,max:14,reverse:true,afterBuildTicks:setTicks(mtModules.map(function(m,r){return r+.5;})),afterFit:fit(162.7),
          border:{display:false},grid:{display:false,drawTicks:false},
          ticks:{callback:function(v){return mtModules[Math.floor(v)];},padding:10,font:{size:17},autoSkip:false}}
      }
    }
  });
  colorbar(2050,110,89,830,[2062,125,2076,918],63,stops,-1,1,mtBarTicks,function(v){return minus(v);},9,5,25,true);
})();

// ---------- C
(function(){
  var fills=['rgba(0,255,0,.5)','rgba(255,0,0,.5)','rgba(0,0,255,.5)'];
  var order=[2,1,0];
  var tx=[365,567,768,440,567,691,567], ty=[1369,1369,1369,1575,1505,1575,1730];
  var list=[T(vennNames[0],329,1138,32),T(vennNames[1],740,1134,32),T(vennNames[2],568,1964,33)];
  vennCounts.forEach(function(c,i){ list.push(T(c,tx[i],ty[i],36,'center','"Liberation Serif", serif')); });
  panel(100,1100,950,950,{
    type:'scatter',
    data:{datasets:order.map(function(k,i){
      return {data:[{x:vennX[k],y:vennY[k]}],pointRadius:231,backgroundColor:fills[i],borderColor:'#000',borderWidth:2.5,clip:false};
    })},
    options:{scales:{
      x:{display:false,min:-466.6,max:483.4},
      y:{display:false,min:-550,max:400}
    }},
    plugins:[labels(list)]
  });
})();

// ---------- D
(function(){
  var stops=[[-.7,'#313695'],[-.5,'#4575b4'],[-.4,'#5f9bcb'],[-.3,'#82b9da'],[-.2,'#a5d3e7'],[-.1,'#cbdcc6'],[-.03,'#e8dda8'],[.05,'#fee090'],[.2,'#fdae61'],[.4,'#f46d43'],[.6,'#d73027'],[.8,'#a50026']];
  var cells=[],colors=[];
  hmValues.forEach(function(row,r){
    row.forEach(function(v,c){ cells.push({x:c,y:[r,r+1]}); colors.push(ramp(stops,v)); });
  });
  panel(1190,1255,860,790,{
    type:'bar',
    data:{datasets:[{data:cells,backgroundColor:colors,borderColor:'#9a9a9a',borderWidth:1.3,barPercentage:1,categoryPercentage:1}]},
    options:{
      layout:{padding:{left:32,top:14,right:0,bottom:0}},
      scales:{
        x:{type:'linear',min:-.5,max:23.5,offset:false,afterBuildTicks:setTicks(hmCols.map(function(c,i){return i;})),afterFit:fit(99),
          border:{display:false},grid:{display:false,offset:false,drawTicks:false},
          ticks:{callback:function(v){return hmCols[v];},minRotation:45,maxRotation:45,padding:4,labelOffset:8,font:{size:16.5},autoSkip:false}},
        y:{position:'right',min:0,max:18,reverse:true,afterBuildTicks:setTicks(hmRows.map(function(m,r){return r+.5;})),afterFit:fit(114),
          border:{display:false},grid:{display:false,drawTicks:false},
          ticks:{callback:function(v){return hmRows[Math.floor(v)];},padding:6,font:{size:16.5},autoSkip:false}}
      }
    },
    plugins:[{id:'stars',afterDraw:function(chart){
      var ctx=chart.ctx,x=chart.scales.x,y=chart.scales.y;
      ctx.save();
      ctx.fillStyle='#222'; ctx.textAlign='center'; ctx.textBaseline='middle'; ctx.font='23px '+FONT;
      hmStars.forEach(function(row,r){
        row.forEach(function(s,c){
          if(s) ctx.fillText(s==2?'**':'*',x.getPixelForValue(c),y.getPixelForValue(r+.5)+2);
        });
      });
      ctx.restore();
    }}]
  });
  function colPath(m){ return [[m[0],m[3]],[m[0],m[2]],[m[1],m[2]],[m[1],m[4]]]; }
  function rowPath(m){ return [[m[3],m[0]],[m[2],m[0]],[m[2],m[1]],[m[4],m[1]]]; }
  panel(1222,1165,714,106,{
    type:'scatter',
    data:{datasets:[lineSet(flat(colMerges.map(colPath)),1.6,'#111')]},
    options:{
      layout:{padding:{top:4,bottom:2}},
      scales:{x:{display:false,min:-.5,max:23.5},y:{display:false,min:0,max:159}}
    }
  });
  panel(1118,1269,104,677,{
    type:'scatter',
    data:{datasets:[lineSet(flat(rowMerges.map(rowPath)),1.6,'#111')]},
    options:{
      layout:{padding:{left:4}},
      scales:{x:{display:false,min:0,max:151,reverse:true},y:{display:false,min:-.5,max:17.5,reverse:true}}
    }
  });
  // title sits above the plot canvases, so it gets its own one
  panel(1400,1080,420,50,{type:'scatter',data:{datasets:[]},options:{scales:{x:hidden,y:hidden}},plugins:[labels([T('Correlation Heatmap',1610,1104,33.4)])]});
  colorbar(2000,1250,139,320,[2016.5,1268,2035,1554],104,stops,-.7,.8,hmBarTicks,function(v){return minus(v===0?'0':v.toFixed(1));},0,4,25,false);
})();

// ---------- E
(function(){
  var index={};
  netNodes.forEach(function(n,i){ index[n]=i; });
  var edges=[];
  function add(from,to,rho){ edges.push([from,to,rho]); }
  posGenes.forEach(function(g,i){
    add('Macrophage',g,macroRho[i]); add('Monocyte',g,monoRho[i]); add('Neutrophil',g,neutRho[i]);
  });
  cd8Genes.forEach(function(g,i){ add('CD8_T',g,cd8Rho[i]); });
  maitGenes.forEach(function(g,i){ add('MAIT',g,maitRho[i]); });
  otherFrom.forEach(function(f,i){ add(f,otherTo[i],otherRho[i]); });

  var degStops=[[1,'#5a1fbe'],[3,'#2a62b0'],[5,'#17a08f'],[7,'#3fb548'],[9,'#b8cf22'],[11,'#d2ce1c'],[13,'#f08a24'],[15,'#e0482a'],[16,'#dc1f34']];
  var sets=edges.map(function(e){
    var a=index[e[0]], b=index[e[1]], w=1+(Math.abs(e[2])-.45)*14;
    var s=lineSet([{x:netX[a],y:netY[a]},{x:netX[b],y:netY[b]}],w,e[2]>0?'#e0c681':'#a8a8a8',e[2]>0?[]:[9,6]);
    s.order=e[2]>0?1:2;
    return s;
  });
  sets.push({type:'scatter',data:netX.map(function(x,i){return {x:x,y:netY[i]};}),order:0,clip:false,
    pointRadius:netDegree.map(function(d){ return d<=1?5:3.4+1.6*d; }),
    pointBackgroundColor:netDegree.map(function(d){ return d<=5?INK:ramp(degStops,d); }),
    pointBorderWidth:0});

  var dx=[16,17,22,20,20,16,10,20,20,23,21,24,20,20,20,31,10,4,19,26,22,21,25,22];
  var dy=[-9,-2,-8,-9,-8,-3,-4,-7,-9,-9,-11,-9,-9,-8,-7,-7,-3,-8,-11,-10,-2,-9,-12,-9];
  var list=[T('Correlation Network',516,2151,33)];
  netNodes.forEach(function(n,i){ list.push(T(n,499+netX[i]+dx[i],2574-netY[i]+dy[i],24)); });
  // legend text
  list.push(T('degree',984,2258,24,'left'),T('degree',984,2470,24,'left'),T('16',1072,2527,24,'left'),T('5',1072,2581,24,'left'),T('1',1072,2617,24,'left'),
    T('abs_rho',984,2657,24,'left'),T('0.8',1026,2694,24,'left'),T('0.7',1026,2725,24,'left'),T('0.6',1026,2756,24,'left'),
    T('relation',984,2796,24,'left'),T('positive',1026,2833,24,'left'),T('negtive',1026,2864,24,'left'));
  panel(100,2130,1039,823,{
    type:'scatter',
    data:{datasets:sets},
    options:{scales:{
      x:{display:false,min:-399,max:640},
      y:{display:false,min:-379,max:444}
    }},
    plugins:[labels(list,function(ctx,ox,oy){
      // legend keys
      ctx.fillStyle='#000';
      ctx.beginPath(); ctx.arc(1022-ox,2527-oy,29,0,Math.PI*2); ctx.fill();
      ctx.strokeStyle='#000'; ctx.lineWidth=1.5;
      ctx.beginPath(); ctx.moveTo(992-ox,2581-oy); ctx.lineTo(1053-ox,2581-oy); ctx.moveTo(992-ox,2617-oy); ctx.lineTo(1053-ox,2617-oy); ctx.stroke();
      ctx.fillStyle=INK;
      ctx.beginPath(); ctx.arc(1022-ox,2581-oy,12,0,Math.PI*2); ctx.fill();
      ctx.beginPath(); ctx.arc(1022-ox,2617-oy,5,0,Math.PI*2); ctx.fill();
      ctx.fillStyle='#000';
      ctx.fillRect(987-ox,2690-oy,25,8); ctx.fillRect(987-ox,2721-oy,25,7); ctx.fillRect(987-ox,2753-oy,25,5);
      ctx.strokeStyle='#e0c681'; ctx.lineWidth=2;
      ctx.beginPath(); ctx.moveTo(987-ox,2833-oy); ctx.lineTo(1012-ox,2833-oy); ctx.stroke();
      ctx.strokeStyle='#a8a8a8'; ctx.setLineDash([7,5]);
      ctx.beginPath(); ctx.moveTo(987-ox,2864-oy); ctx.lineTo(1012-ox,2864-oy); ctx.stroke();
      ctx.setLineDash([]);
    })]
  });
  colorbar(970,2280,120,175,[985,2291,1015,2441],75,degStops,1,16,[1,8.5,16],function(v){return v.toFixed(1);},0,12,24,false);
})();

// ---------- F
(function(){
  var whiskers=[];
  fHR.forEach(function(h,r){
    whiskers.push([[fLow[r],r],[fHigh[r],r]]);
    whiskers.push([[fLow[r],r-.11],[fLow[r],r+.11]]);
    whiskers.push([[fHigh[r],r-.11],[fHigh[r],r+.11]]);
  });
  var list=[T('P value',1403,2172,24.5),T('HR',1545,2172,24.5),T('HR',1871,2942,24.5)];
  fGenes.forEach(function(g,r){
    var y=2209+r*36.3;
    list.push(T(g,1238,y,24.5,'left'));
    list.push(T(fP[r].toFixed(3),1367,y,24.5,'left'));
    list.push(T(fHR[r].toFixed(2)+'('+fLow[r].toFixed(2)+'\u2212'+fHigh[r].toFixed(2)+')',1641,y-2,24.5,'right'));
  });
  panel(1100,2130,1039,823,{
    type:'scatter',
    data:{datasets:[
      {data:fHR.map(function(h,r){return {x:h,y:r};}),pointStyle:'rect',pointRadius:11.3,pointBorderWidth:0,clip:false,
        pointBackgroundColor:fHR.map(function(h){return h>=1?'#ff0000':'#00ffff';})},
      lineSet(flat(whiskers),1.8,'#111'),
      lineSet(flat([[[1,-.41],[1,17.72]]]),1.6,'#333',[6,5])
    ]},
    options:{
      layout:{padding:{left:629.6,top:65,right:157,bottom:0}},
      scales:{
        x:{min:0,max:6,afterBuildTicks:setTicks(fTicks),afterFit:fit(99),
          border:{display:true,color:'#000',width:2},
          grid:{drawOnChartArea:false,tickLength:19,color:'#000',lineWidth:2},
          ticks:{padding:6,font:{size:25},autoSkip:false,maxRotation:0}},
        y:{display:false,min:-.41,max:17.72,reverse:true}
      }
    },
    plugins:[labels(list,function(ctx,ox,oy){
      ctx.strokeStyle='#222'; ctx.lineWidth=2;
      ctx.beginPath();
      ctx.moveTo(1222-ox,2192.5-oy); ctx.lineTo(1682-ox,2192.5-oy);
      ctx.moveTo(1222-ox,2843-oy); ctx.lineTo(1686-ox,2843-oy);
      ctx.stroke();
    })]
  });
})();
</script>
</body>
</html>
